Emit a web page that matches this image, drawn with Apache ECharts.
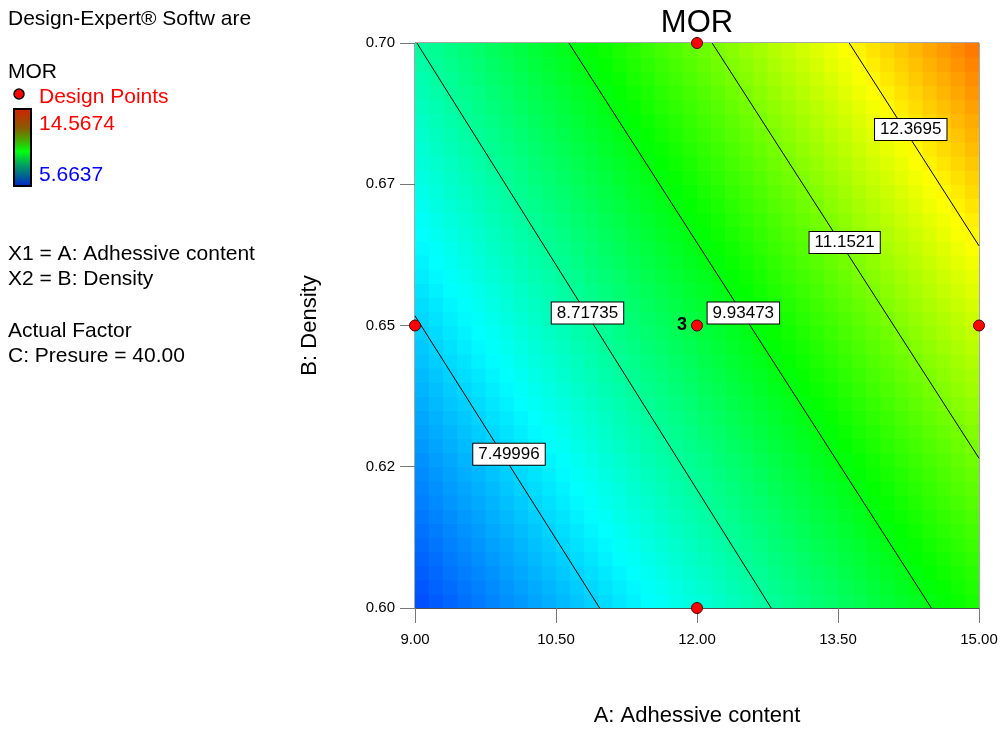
<!DOCTYPE html>
<html><head><meta charset="utf-8">
<script src="https://cdn.jsdelivr.net/npm/echarts@6/dist/echarts.min.js"></script>
<style>html,body{margin:0;padding:0;background:#fff}#c{width:1000px;height:732px}</style>
</head><body><div id="c"></div>
<script>
// ---- data ----
const xTickLabels = ['9.00', '10.50', '12.00', '13.50', '15.00'];
const yTickLabels = ['0.60', '0.62', '0.65', '0.67', '0.70'];
// MOR readings at the tick nodes (rows: B = 0.600 .. 0.700, columns: A = 9.00 .. 15.00)
const aNodes = [9, 10.5, 12, 13.5, 15];
const bNodes = [0.600, 0.625, 0.650, 0.675, 0.700];
const morRow060 = [6.29, 7.21, 8.18, 9.22, 10.31];
const morRow0625 = [6.87, 7.83, 8.86, 9.95, 11.10];
const morRow065 = [7.46, 8.48, 9.56, 10.71, 11.91];
const morRow0675 = [8.07, 9.15, 10.29, 11.49, 12.75];
const morRow070 = [8.70, 9.84, 11.03, 12.28, 13.60];
// contour levels and where each one meets the plot border
const contourLevels = ['7.49996', '8.71735', '9.93473', '11.1521', '12.3695'];
const contourStart = [[9.00, 0.6517], [9.02, 0.70], [10.637, 0.70], [12.161, 0.70], [13.619, 0.70]];
const contourEnd = [[10.964, 0.60], [12.789, 0.60], [14.493, 0.60], [15.00, 0.6265], [15.00, 0.6641]];
const contourLabelAt = [[10.00, 0.6272], [10.835, 0.6522], [12.493, 0.6522], [13.571, 0.6647], [14.274, 0.6847]];
// design points
const designA = [9, 12, 12, 12, 15];
const designB = [0.65, 0.70, 0.65, 0.60, 0.65];
const designReps = [1, 1, 3, 1, 1];
const morMin = 5.6637, morMax = 14.5674;

// ---- build the shaded field (smooth shading between the read nodes) ----
const morGrid = [morRow060, morRow0625, morRow065, morRow0675, morRow070];
function morAt(a, b) {
  const fx = (a - aNodes[0]) / (aNodes[1] - aNodes[0]);
  const fy = (b - bNodes[0]) / (bNodes[1] - bNodes[0]);
  const i = Math.max(0, Math.min(Math.floor(fx), aNodes.length - 2));
  const j = Math.max(0, Math.min(Math.floor(fy), bNodes.length - 2));
  const tx = fx - i, ty = fy - j;
  return morGrid[j][i] * (1 - tx) * (1 - ty) + morGrid[j][i + 1] * tx * (1 - ty)
       + morGrid[j + 1][i] * (1 - tx) * ty + morGrid[j + 1][i + 1] * tx * ty;
}
const N = 40;
const aMin = aNodes[0], aMax = aNodes[aNodes.length - 1];
const bMin = bNodes[0], bMax = bNodes[bNodes.length - 1];
const cellA = (aMax - aMin) / N, cellB = (bMax - bMin) / N;
const fieldData = [];
for (let r = 0; r < N; r++) {
  for (let c = 0; c < N; c++) {
    const a = aMin + (c + 0.5) * cellA, b = bMin + (r + 0.5) * cellB;
    fieldData.push([a, b, morAt(a, b)]);
  }
}

const FONT = '"Liberation Sans", Arial, sans-serif';
const chart = echarts.init(document.getElementById('c'), null, { renderer: 'canvas' });

const series = [];
series.push({
  type: 'custom', data: fieldData, encode: { x: 0, y: 1 }, clip: true, silent: true, z: 1,
  renderItem: function (params, api) {
    const a = api.value(0), b = api.value(1);
    const p0 = api.coord([a - cellA / 2, b + cellB / 2]);
    const p1 = api.coord([a + cellA / 2, b - cellB / 2]);
    return { type: 'rect', shape: { x: p0[0], y: p0[1], width: p1[0] - p0[0] + 0.7, height: p1[1] - p0[1] + 0.7 },
      style: { fill: api.visual('color') } };
  }
});
contourLevels.forEach(function (lv, k) {
  series.push({
    type: 'line', data: [contourStart[k], contourEnd[k]], showSymbol: false, symbol: 'none', silent: true,
    lineStyle: { color: '#000', width: 1 }, z: 3, clip: true, animation: false
  });
});
series.push({
  type: 'scatter', symbolSize: 0, silent: true, z: 4, itemStyle: { opacity: 1 },
  data: contourLabelAt.map(function (p, k) { return { value: p, name: contourLevels[k] }; }),
  label: { show: true, position: 'inside', formatter: '{b}', color: '#000', fontFamily: FONT, fontSize: 17,
    backgroundColor: '#ffffff', borderColor: '#000', borderWidth: 1, padding: [2, 5, 1, 5], lineHeight: 18, opacity: 1 }
});
series.push({
  type: 'scatter', symbol: 'circle', symbolSize: 11, z: 6, clip: false, silent: true,
  itemStyle: { color: '#ff0000', borderColor: '#500000', borderWidth: 1, opacity: 1 },
  data: designA.map(function (a, k) {
    return { value: [a, designB[k]], label: { show: designReps[k] > 1, formatter: String(designReps[k]), position: 'left', distance: 4,
      color: '#000', fontFamily: FONT, fontSize: 18, fontWeight: 'bold' } };
  })
});

function gtext(text, x, y, size, color, extra) {
  return Object.assign({ type: 'text', x: x, y: y, z: 10,
    style: { text: text, font: size + 'px ' + FONT, fill: color, align: 'left', verticalAlign: 'middle',
      textAlign: 'left', textVerticalAlign: 'middle' } }, extra || {});
}

chart.setOption({
  animation: false,
  backgroundColor: '#ffffff',
  grid: { left: 415, top: 43, right: 21, bottom: 124, show: true, borderColor: '#505050', borderWidth: 1,
    backgroundColor: 'transparent', containLabel: false, outerBoundsMode: 'none' },
  visualMap: { show: false, type: 'continuous', min: morMin, max: morMax, dimension: 2, seriesIndex: 0,
    inRange: { color: ['#0000ff', '#00ffff', '#00ff00', '#ffff00', '#ff0000'] } },
  xAxis: {
    type: 'value', min: 9, max: 15, interval: 1.5,
    name: 'A: Adhessive content', nameLocation: 'middle', nameGap: 97,
    nameTextStyle: { fontFamily: FONT, fontSize: 22, color: '#000' },
    axisLine: { show: true, onZero: false, lineStyle: { color: '#505050', width: 1 } },
    axisTick: { show: true, length: 15, lineStyle: { color: '#777', width: 1 } },
    axisLabel: { margin: 24, fontFamily: FONT, fontSize: 15, color: '#000',
      formatter: function (v) { return xTickLabels[Math.round((v - 9) / 1.5)]; } },
    splitLine: { show: false }
  },
  yAxis: {
    type: 'value', min: 0.6, max: 0.7, interval: 0.025,
    name: 'B: Density', nameLocation: 'middle', nameGap: 94, nameRotate: 90,
    nameTextStyle: { fontFamily: FONT, fontSize: 22, color: '#000' },
    axisLine: { show: true, onZero: false, lineStyle: { color: '#505050', width: 1 } },
    axisTick: { show: true, length: 15, lineStyle: { color: '#777', width: 1 } },
    axisLabel: { margin: 20, fontFamily: FONT, fontSize: 15, color: '#000',
      formatter: function (v) { return yTickLabels[Math.round((v - 0.6) / 0.025)]; } },
    splitLine: { show: false }
  },
  series: series,
  graphic: [
    { type: 'text', x: 697, y: 23, z: 10, style: { text: 'MOR', font: '31px ' + FONT, fill: '#000',
      align: 'center', verticalAlign: 'middle', textAlign: 'center', textVerticalAlign: 'middle' } },
    gtext('Design-Expert® Softw are', 8, 19, 21, '#000'),
    gtext('MOR', 8, 72, 21, '#000'),
    { type: 'circle', z: 10, shape: { cx: 19, cy: 94, r: 5 }, style: { fill: '#ff0000', stroke: '#000', lineWidth: 1.5 } },
    gtext('Design Points', 39, 97, 21, '#ff0000'),
    { type: 'rect', z: 10, shape: { x: 14, y: 109, width: 17, height: 77 },
      style: { stroke: '#000', lineWidth: 2,
        fill: { type: 'linear', x: 0, y: 0, x2: 0, y2: 1, colorStops: [
          { offset: 0, color: '#d42000' }, { offset: 0.25, color: '#8a5a00' }, { offset: 0.42, color: '#40b000' },
          { offset: 0.55, color: '#00ff10' }, { offset: 0.72, color: '#00a060' }, { offset: 0.88, color: '#005a9a' },
          { offset: 1, color: '#0020d0' } ] } } },
    gtext('14.5674', 39, 124, 21, '#ff0000'),
    gtext('5.6637', 39, 175, 21, '#0000ff'),
    gtext('X1 = A: Adhessive content', 8, 254, 21, '#000'),
    gtext('X2 = B: Density', 8, 279, 21, '#000'),
    gtext('Actual Factor', 8, 331, 21, '#000'),
    gtext('C: Presure = 40.00', 8, 356, 21, '#000')
  ]
});
</script></body></html>
